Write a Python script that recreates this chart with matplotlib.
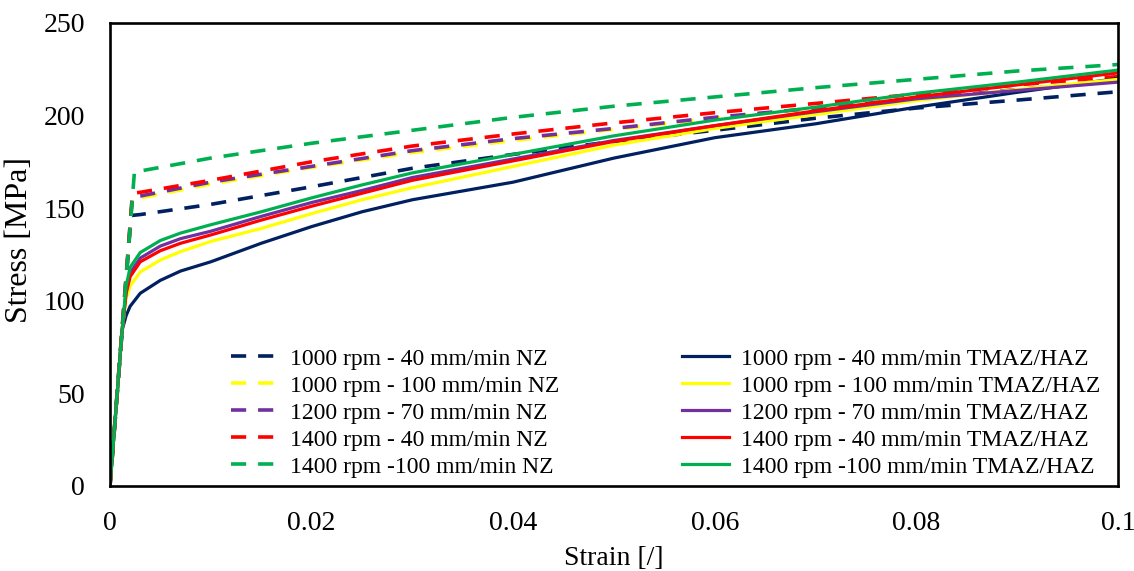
import matplotlib
matplotlib.use('Agg')
import matplotlib.pyplot as plt

plt.rcParams['font.family'] = ['Liberation Serif', 'DejaVu Serif']

# solid curves (TMAZ/HAZ) share one strain grid
strain_s = [0, 0.0012, 0.0016, 0.002, 0.003, 0.005, 0.007, 0.01, 0.015, 0.02,
            0.025, 0.03, 0.04, 0.05, 0.06, 0.07, 0.08, 0.09, 0.1]
s_1000_40 = [0, 84, 92, 97, 104, 111, 116, 121, 131, 140,
             148, 154.5, 164, 177, 188, 195.5, 204.5, 212.5, 220]
s_1000_100 = [0, 84, 101, 108, 115.5, 122, 126.5, 132, 139, 147,
              154.5, 161, 172.5, 184, 193, 200.5, 208, 214, 219.5]
s_1200_70 = [0, 84, 105, 115, 123, 129.5, 133.5, 137.5, 145.5, 153,
             159.5, 166.5, 176.5, 186.5, 194.5, 202, 209, 213.5, 218]
s_1400_40 = [0, 84, 104, 113, 121, 127, 131, 135.5, 143.5, 151,
             158, 165, 175.5, 186, 194.5, 202.5, 210, 216.5, 223]
s_1400_100 = [0, 84, 108, 118, 126, 132.5, 136.5, 141, 148, 155.5,
              162.5, 169, 179, 189, 197.5, 204.5, 212, 218, 224.5]

# dashed curves (NZ), each with its own yield strain
nz_x_1000_40 = [0, 0.0021, 0.003, 0.01, 0.02, 0.025, 0.03, 0.04, 0.05, 0.06, 0.07, 0.08, 0.09, 0.1]
nz_1000_40 = [0, 146, 146.5, 152, 161.5, 166.5, 171.5, 179, 186, 192, 198.5, 204, 208.3, 212.8]
nz_x_1000_100 = [0, 0.0022, 0.003, 0.01, 0.02, 0.03, 0.04, 0.05, 0.06, 0.07, 0.08, 0.09, 0.1]
nz_1000_100 = [0, 155, 155.5, 163, 172, 180, 186.5, 192.5, 198.5, 204, 209, 214, 219]
nz_x_1200_70 = [0, 0.0022, 0.003, 0.01, 0.02, 0.03, 0.04, 0.05, 0.06, 0.07, 0.08, 0.09, 0.1]
nz_1200_70 = [0, 156, 156.5, 164, 172.5, 181, 187.5, 193, 199, 204, 209, 214, 218.5]
nz_x_1400_40 = [0, 0.00225, 0.003, 0.01, 0.02, 0.03, 0.04, 0.05, 0.06, 0.07, 0.08, 0.09, 0.1]
nz_1400_40 = [0, 158, 158.5, 165, 175, 183.5, 190, 196, 201.5, 206.5, 211.5, 216.5, 221]
nz_x_1400_100 = [0, 0.00243, 0.003, 0.01, 0.02, 0.03, 0.04, 0.05, 0.06, 0.07, 0.08, 0.09, 0.1]
nz_1400_100 = [0, 170, 170, 177, 185, 192, 199, 205, 210, 215, 219.5, 224, 227.5]

labels = ['1000 rpm - 40 mm/min', '1000 rpm - 100 mm/min', '1200 rpm - 70 mm/min',
          '1400 rpm - 40 mm/min', '1400 rpm -100 mm/min']
colors = ['#002060', '#FFFF00', '#7030A0', '#FF0000', '#00B050']

nz_x = [nz_x_1000_40, nz_x_1000_100, nz_x_1200_70, nz_x_1400_40, nz_x_1400_100]
nz_y = [nz_1000_40, nz_1000_100, nz_1200_70, nz_1400_40, nz_1400_100]
haz_y = [s_1000_40, s_1000_100, s_1200_70, s_1400_40, s_1400_100]

fig = plt.figure(figsize=(11.34, 5.71), dpi=100)
ax = fig.add_axes([0.097, 0.149, 0.889, 0.811])

for x, y, c, lab in zip(nz_x, nz_y, colors, labels):
    ax.plot(x, y, color=c, lw=2.6, dashes=(4.2, 3.3), label=lab + ' NZ')
for y, c, lab in zip(haz_y, colors, labels):
    ax.plot(strain_s, y, color=c, lw=2.3, label=lab + ' TMAZ/HAZ')

ax.set_xlim(0, 0.1)
ax.set_ylim(0, 250)
ax.set_xticks([0, 0.02, 0.04, 0.06, 0.08, 0.1])
ax.set_xticklabels(['0', '0.02', '0.04', '0.06', '0.08', '0.1'])
ax.set_yticks(range(0, 251, 50))
ax.tick_params(length=0, labelsize=20)
ax.tick_params(axis='x', pad=18)
ax.tick_params(axis='y', pad=18)
for sp in ax.spines.values():
    sp.set_linewidth(1.9)
    sp.set_color('black')

ax.set_xlabel('Strain [/]', fontsize=20, labelpad=7)
ax.set_ylabel('Stress [MPa]', fontsize=23)
ax.yaxis.set_label_coords(-0.075, 0.53)

ax.legend(ncol=2, loc='lower left', bbox_to_anchor=(0.12, 0.018), frameon=False,
          fontsize=17, handlelength=2.0, handletextpad=0.5, columnspacing=5.2,
          labelspacing=0.23, borderpad=0, borderaxespad=0)

fig.savefig('out.png', dpi=100)
